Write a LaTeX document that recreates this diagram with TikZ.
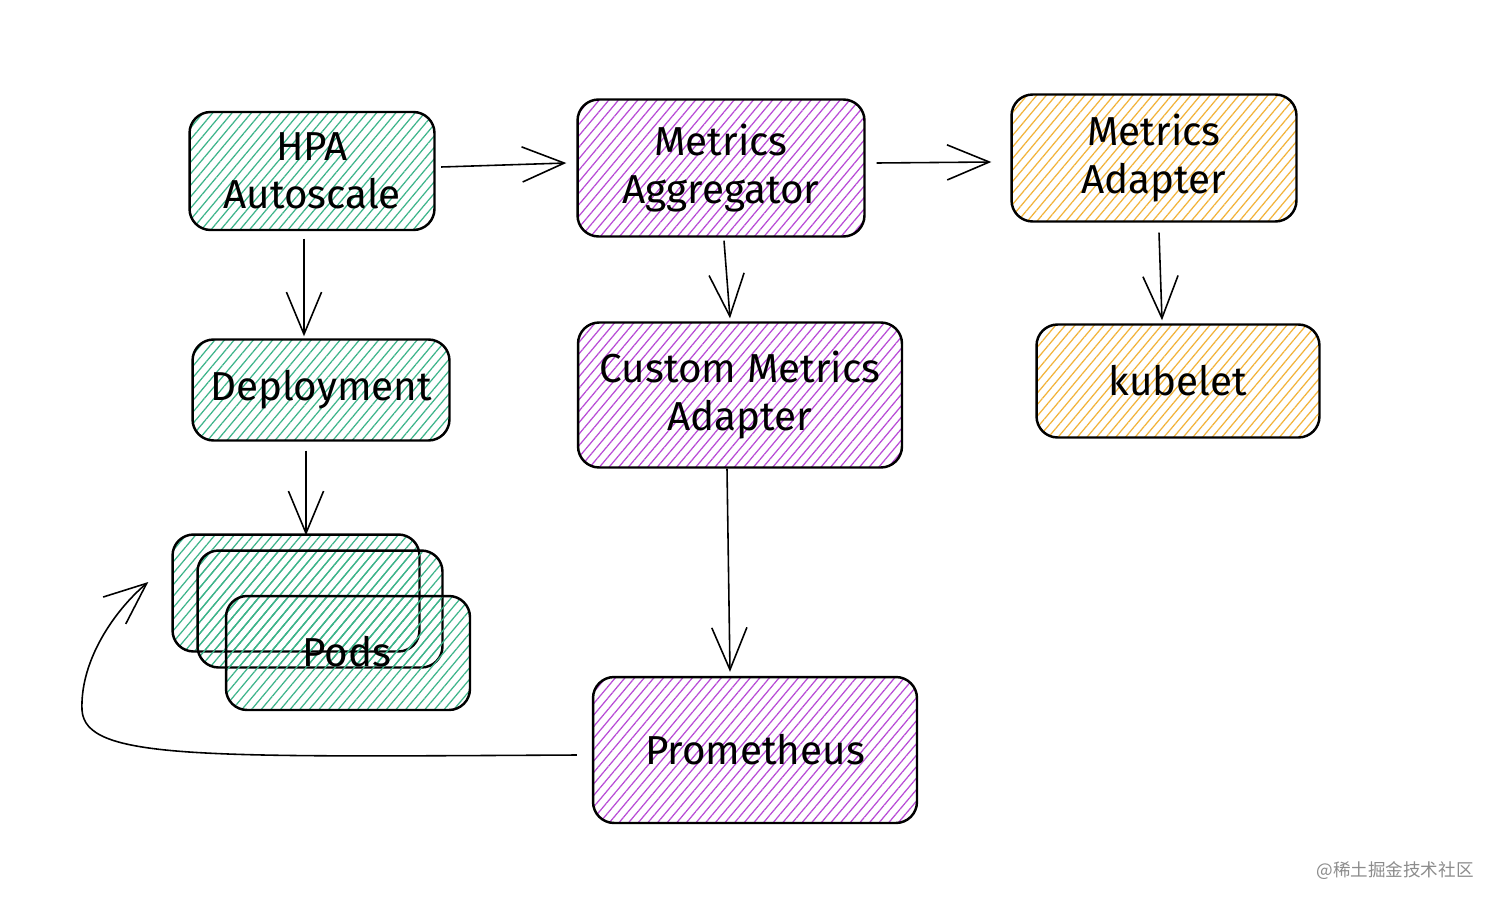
\documentclass[tikz,border=0pt]{standalone}
\usepackage{fontspec}
\setmainfont{Fira Sans}
\newfontfamily\cjk{Noto Sans CJK SC}
\usetikzlibrary{arrows.meta,patterns.meta}
\definecolor{hgreen}{HTML}{3DB48A}
\definecolor{hviolet}{HTML}{B84BD6}
\definecolor{hyellow}{HTML}{F2B33A}

\begin{document}
\begin{tikzpicture}[x=0.02cm, y=-0.02cm,
    box/.style={draw=black, line width=1.4pt, rounded corners=12pt, align=center,
        font=\fontsize{23}{27}\selectfont,
        pattern={Lines[angle=50,distance=4.2pt,line width=0.7pt]}},
    greenbox/.style={box, pattern color=hgreen},
    violetbox/.style={box, pattern color=hviolet},
    yellowbox/.style={box, pattern color=hyellow},
    flow/.style={line width=0.9pt, -{Straight Barb[length=24pt,width=20pt,line width=0.9pt]}}]
    % canvas
    \useasboundingbox[fill=white] (0,0) rectangle (1500,906);
    % left column
    \node[greenbox, minimum width=4.9cm, minimum height=2.36cm] (hpa) at (312,171) {HPA\\Autoscale};
    \node[greenbox, minimum width=5.14cm, minimum height=2.02cm] (deploy) at (321,390) {Deployment};
    \node[greenbox, minimum width=4.94cm, minimum height=2.34cm] (pods1) at (296,593) {};
    \node[greenbox, minimum width=4.9cm, minimum height=2.34cm] (pods2) at (320,609) {};
    \node[greenbox, minimum width=4.88cm, minimum height=2.28cm] (pods3) at (348,653) {};
    \node[font=\fontsize{23}{27}\selectfont] (podslabel) at (347,652) {Pods};
    % middle column
    \node[violetbox, minimum width=5.74cm, minimum height=2.74cm] (aggr) at (721,168) {Metrics\\Aggregator};
    \node[violetbox, minimum width=6.48cm, minimum height=2.9cm] (custom) at (740,395) {Custom Metrics\\Adapter};
    \node[violetbox, minimum width=6.48cm, minimum height=2.92cm] (prom) at (755,750) {Prometheus};
    % right column
    \node[yellowbox, minimum width=5.7cm, minimum height=2.54cm] (madapter) at (1154,158) {Metrics\\Adapter};
    \node[yellowbox, minimum width=5.66cm, minimum height=2.26cm] (kubelet) at (1178,381) {kubelet};
    % connectors
    \draw[flow] ([shift={(6,-4)}]hpa.east) -- ([shift={(-10,-5)}]aggr.west);
    \draw[flow] ([shift={(11,-5)}]aggr.east) -- ([shift={(-19,4)}]madapter.west);
    \draw[flow] ([shift={(-8,8)}]hpa.south) -- ([shift={(-17,-2)}]deploy.north);
    \draw[flow] ([shift={(3,3)}]aggr.south) -- ([shift={(-10,-3)}]custom.north);
    \draw[flow] ([shift={(5,10)}]madapter.south) -- ([shift={(-16,-3)}]kubelet.north);
    \draw[flow] ([shift={(-15,9)}]deploy.south) -- ([shift={(10,2)}]pods1.north);
    \draw[flow] ([shift={(-13,0)}]custom.south) -- ([shift={(-25,-4)}]prom.north);
    % feedback to pods
    \coordinate (podsin) at ([shift={(-23,-11)}]pods1.west);
    \draw[flow] ([shift={(-15,5)}]prom.west) .. controls (200,757) and (85,760) .. (82,710)
        .. controls (80,660) and (115,610) .. (podsin);
    % watermark
    \node[text=black!45, font=\cjk\fontsize{10}{12}\selectfont] (mark) at (1395,871) {@稀土掘金技术社区};
\end{tikzpicture}
\end{document}
